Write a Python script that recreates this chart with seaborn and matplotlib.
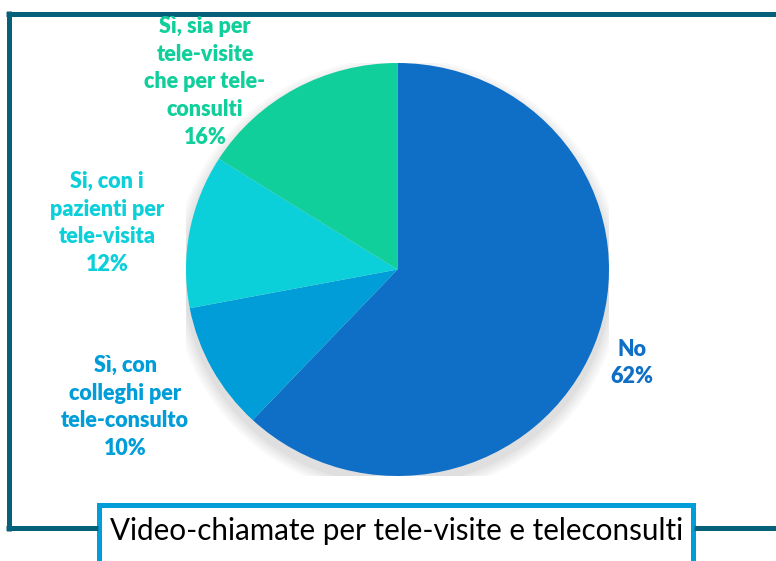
import matplotlib
matplotlib.use("Agg")
import matplotlib.pyplot as plt
from matplotlib.patches import Ellipse, Rectangle
import seaborn as sns

# Survey answers and shares (%), clockwise from 12 o'clock
categories = [
    "No",
    "Sì, con\ncolleghi per\ntele-consulto",
    "Si, con i\npazienti per\ntele-visita",
    "Sì, sia per\ntele-visite\nche per tele-\nconsulti",
]
shares = [62, 10, 12, 16]
colors = ["#0F6FC6", "#009DD9", "#0BD0D9", "#10CF9B"]
title = "Video-chiamate per tele-visite e teleconsulti"

# label anchor points in pixel space (x, y from top-left)
label_px = [(632, 363), (125, 407), (107, 223), (205, 82)]

sns.set_theme(style="white")
plt.rcParams["font.family"] = ["Lato", "DejaVu Sans"]

W, H = 776, 561
fig = plt.figure(figsize=(W / 100, H / 100), dpi=100)
fig.patch.set_facecolor("white")

# background layer in pixel units for the frame and title box
bg = fig.add_axes([0, 0, 1, 1], zorder=0)
bg.set_xlim(0, W)
bg.set_ylim(H, 0)
bg.axis("off")

frame_col = "#05607A"
lw = 5 * 72 / 100
bg.plot([6, W], [13.5, 13.5], color=frame_col, lw=lw, solid_capstyle="butt")
bg.plot([8.5, 8.5], [11, 531], color=frame_col, lw=lw, solid_capstyle="butt")
bg.plot([6, 98], [528, 528], color=frame_col, lw=lw, solid_capstyle="butt")
bg.plot([694, W], [528, 528], color=frame_col, lw=lw, solid_capstyle="butt")
bg.add_patch(Rectangle((98.5, 504.5), 594.5, 70, facecolor="white",
                       edgecolor="#009DD9", lw=lw, clip_on=False))
bg.text(397, 531, title, ha="center", va="center", fontsize=21.3,
        color="black")

# pie axes spanning the pie's bounding box
left, right, top, bottom = 186, 609, 63, 476
ax = fig.add_axes([left / W, (H - bottom) / H, (right - left) / W, (bottom - top) / H],
                  zorder=1)
ax.patch.set_alpha(0)

# soft drop shadow under the pie
for i, a in enumerate([0.035, 0.035, 0.035, 0.04, 0.05]):
    s = 1.06 - i * 0.012
    ax.add_patch(Ellipse((0, -0.035), 2 * s, 2 * s, facecolor="#555555",
                         edgecolor="none", alpha=a, zorder=0))

wedges, _ = ax.pie(shares, colors=colors, startangle=90, counterclock=False,
                   radius=1, wedgeprops=dict(linewidth=0))
for w in wedges:
    w.set_zorder(2)
ax.set_aspect("auto")
ax.set_xlim(-1, 1)
ax.set_ylim(-1, 1)
ax.axis("off")

for cat, val, col, (px, py) in zip(categories, shares, colors, label_px):
    x = (px - left) / (right - left) * 2 - 1
    y = 1 - (py - top) / (bottom - top) * 2
    ax.text(x, y, f"{cat}\n{val}%", ha="center", va="center", color=col,
            fontsize=15.5, fontweight="heavy", linespacing=1.4, clip_on=False,
            zorder=3)

fig.savefig("out.png", dpi=100)
